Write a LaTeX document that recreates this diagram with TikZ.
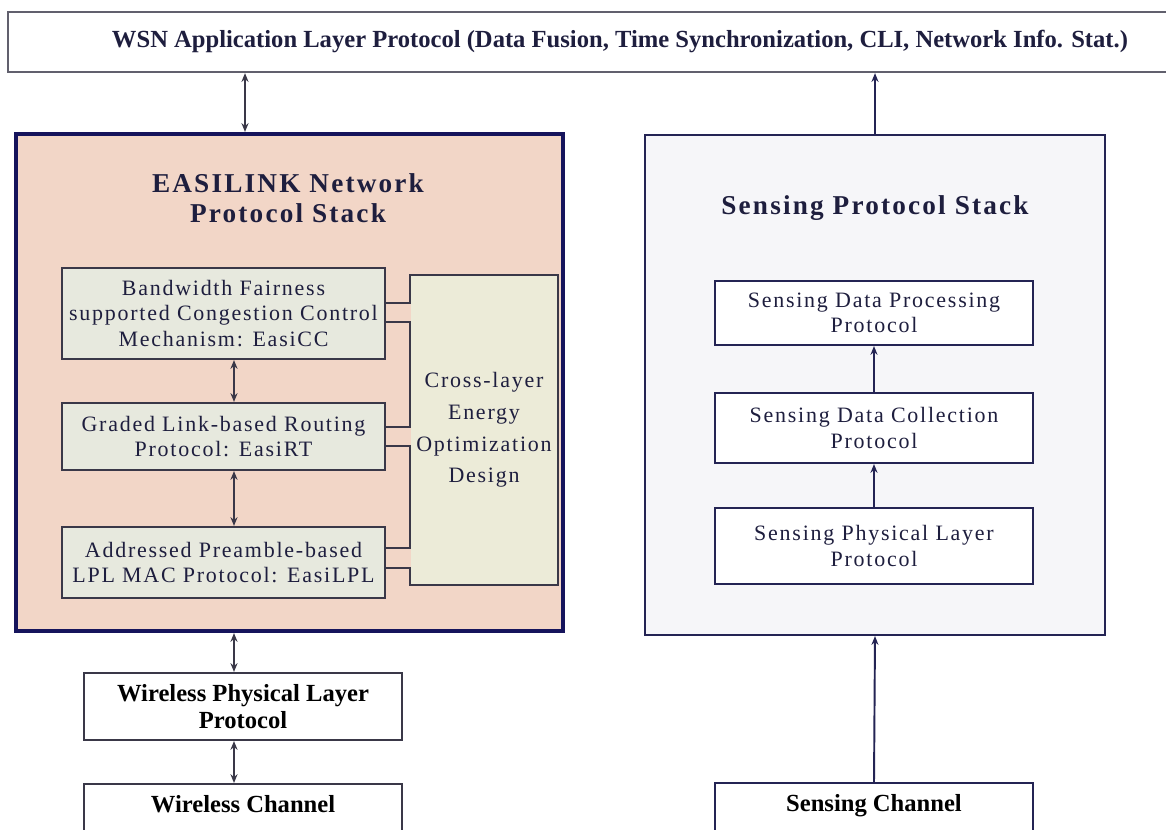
\documentclass[tikz,border=0pt]{standalone}
\usepackage{fontspec}
\setmainfont{Liberation Serif}
\newfontfamily\spacedfont[LetterSpace=8]{Liberation Serif}
\usetikzlibrary{arrows.meta,positioning,calc}
\definecolor{easinavy}{RGB}{22,20,92}
\definecolor{easiline}{RGB}{58,56,72}
\definecolor{easitext}{RGB}{30,30,62}
\definecolor{easipeach}{RGB}{242,214,199}
\definecolor{easigray}{RGB}{231,233,222}
\definecolor{easicross}{RGB}{236,235,216}
\definecolor{senselight}{RGB}{246,246,249}
\definecolor{sensenavy}{RGB}{36,36,84}

\begin{document}
\begin{tikzpicture}[
    x=0.02cm, y=-0.02cm,
    appbox/.style={rectangle, draw=easiline!80, line width=1.3pt, fill=white, minimum width=24.48cm, minimum height=1.2cm, font=\fontsize{14}{15}\selectfont\bfseries, text=easitext},
    layerbox/.style={rectangle, draw=easiline, line width=1.2pt, fill=easigray, minimum width=6.46cm, align=center, text=easitext, font=\spacedfont\fontsize{12.5}{14.5}\selectfont},
    sensebox/.style={rectangle, draw=sensenavy, line width=1.2pt, fill=white, minimum width=6.36cm, align=center, text=easitext, font=\spacedfont\fontsize{12.5}{14.5}\selectfont},
    chanbox/.style={rectangle, draw=sensenavy, line width=1.2pt, fill=white, minimum width=6.36cm, align=center, text=black, font=\fontsize{14}{15}\selectfont\bfseries},
    stacktitle/.style={align=center, text=easitext, font=\spacedfont\fontsize{15.5}{17}\selectfont\bfseries},
    link/.style={easiline, line width=1.2pt},
    dblarrow/.style={{Stealth[length=5pt,width=4pt]}-{Stealth[length=5pt,width=4pt]}, easiline, line width=1.1pt},
    uparrow/.style={-{Stealth[length=5pt,width=4pt]}, sensenavy, line width=1.1pt}
]
\useasboundingbox[fill=white] (0,0) rectangle (1166,830);

% application layer on top
\node[appbox] (app) at (620,42) {WSN Application Layer Protocol (Data Fusion, Time Synchronization, CLI, Network Info. Stat.)};

% EASILINK stack
\node[rectangle, draw=easinavy, line width=2.4pt, fill=easipeach, minimum width=10.94cm, minimum height=9.94cm] (easi) at (289.5,382.5) {};
\node[stacktitle] (easititle) at (288,198) {EASILINK Network\\Protocol Stack};
\node[layerbox, minimum height=1.82cm] (b1) at (223.5,313.5) {Bandwidth Fairness\\supported Congestion Control\\Mechanism: EasiCC};
\node[layerbox, minimum height=1.34cm] (b2) at (223.5,436.5) {Graded Link-based Routing\\Protocol: EasiRT};
\node[layerbox, minimum height=1.42cm] (b3) at (223.5,562.5) {Addressed Preamble-based\\LPL MAC Protocol: EasiLPL};
\node[rectangle, fill=easicross, minimum width=2.76cm, minimum height=6.2cm, align=center, text=easitext, font=\spacedfont\fontsize{12.5}{18}\selectfont] (cross) at (484,430) {Cross-layer\\Energy\\Optimization\\Design};

% stubs between the layers and the cross-layer design
\coordinate (b1u) at ([yshift=2.1mm]b1.east);
\coordinate (b1d) at ([yshift=-1.7mm]b1.east);
\coordinate (b2u) at ([yshift=1.9mm]b2.east);
\coordinate (b2d) at ([yshift=-1.9mm]b2.east);
\coordinate (b3u) at ([yshift=2.9mm]b3.east);
\coordinate (b3d) at ([yshift=-1.1mm]b3.east);
\draw[link] (b1u) -| (cross.north west) -- (cross.north east) -- (cross.south east) -- (cross.south west) |- (b3d);
\draw[link] (b1d) -| (cross.west |- b2u) -- (b2u);
\draw[link] (b2d) -| (cross.west |- b3u) -- (b3u);

% wireless side
\node[chanbox, draw=easiline, minimum height=1.34cm] (wphy) at (243,706.5) {Wireless Physical Layer\\Protocol};
\node[chanbox, draw=easiline, anchor=north, text height=0.45cm, text depth=0.72cm] (wchan) at (243,783) {Wireless Channel};

\coordinate (ax1) at (245,0);
\coordinate (ax2) at (234,0);
\draw[dblarrow] (app.south -| ax1) -- (easi.north -| ax1);
\draw[dblarrow] (b1.south -| ax2) -- (b2.north -| ax2);
\draw[dblarrow] (b2.south -| ax2) -- (b3.north -| ax2);
\draw[dblarrow] (easi.south -| ax2) -- (wphy.north -| ax2);
\draw[dblarrow] (wphy.south -| ax2) -- (wchan.north -| ax2);

% sensing stack
\node[rectangle, draw=sensenavy, line width=1.3pt, fill=senselight, minimum width=9.2cm, minimum height=10cm] (sens) at (875,385) {};
\node[stacktitle] (senstitle) at (875,208) {Sensing Protocol Stack};
\node[sensebox, minimum height=1.28cm] (sdp) at (874,313) {Sensing Data Processing\\Protocol};
\node[sensebox, minimum height=1.4cm] (sdc) at (874,428) {Sensing Data Collection\\Protocol};
\node[sensebox, minimum height=1.52cm] (spl) at (874,546) {Sensing Physical Layer\\Protocol};
\node[chanbox, anchor=north, text height=0.45cm, text depth=0.72cm] (schan) at (874,782) {Sensing Channel};

\draw[uparrow] (sens.north) -- (app.south -| sens.north);
\draw[uparrow] (sdc) -- (sdp);
\draw[uparrow] (spl) -- (sdc);
\draw[uparrow] (schan.north) -- (sens.south);

\end{tikzpicture}
\end{document}
